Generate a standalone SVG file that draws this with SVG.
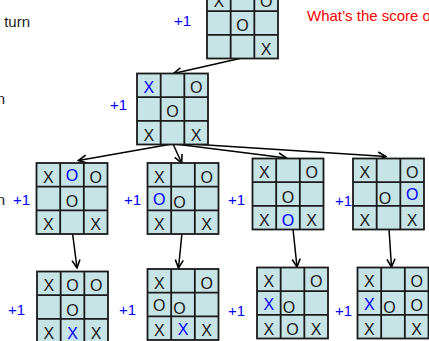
<svg xmlns="http://www.w3.org/2000/svg" width="429" height="341" viewBox="0 0 429 341">
<style>
.bg{fill:#c6e3e5;stroke:#1a1a1a;stroke-width:1.8}
.gl{stroke:#1a1a1a;stroke-width:1.8}
.m{font-family:"Liberation Sans",Arial,sans-serif;font-size:16px;text-anchor:middle;fill:#1a1a1a}
.b{fill:#0000ff}
.s{font-family:"Liberation Sans",Arial,sans-serif;font-size:15px;fill:#0000ff}
.k{font-family:"Liberation Sans",Arial,sans-serif;font-size:15px;fill:#1a1a1a}
.r{font-family:"Liberation Sans",Arial,sans-serif;font-size:15px;fill:#ff0000}
.c{stroke:#000;stroke-width:1.5;fill:none;marker-end:url(#ah)}
</style>
<defs>
<marker id="ah" viewBox="0 0 10 10" refX="9" refY="5" markerWidth="10" markerHeight="10" markerUnits="userSpaceOnUse" orient="auto">
<path d="M1,1 L9,5 L1,9" fill="none" stroke="#000" stroke-width="1.6"/>
</marker>
<g id="grid">
<rect class="bg" x="0" y="0" width="71" height="71"/>
<line class="gl" x1="23.67" y1="0" x2="23.67" y2="71"/>
<line class="gl" x1="47.33" y1="0" x2="47.33" y2="71"/>
<line class="gl" x1="0" y1="23.67" x2="71" y2="23.67"/>
<line class="gl" x1="0" y1="47.33" x2="71" y2="47.33"/>
</g>
</defs>

<text class="k" x="30" y="27" text-anchor="end">turn</text>
<text class="k" x="5" y="104" text-anchor="end">n</text>
<text class="k" x="5" y="205" text-anchor="end">n</text>
<text class="r" x="307" y="21">What’s the score o</text>

<g id="connectors">
<line class="c" x1="242" y1="58" x2="173.5" y2="73.5"/>
<line class="c" x1="172" y1="144" x2="78.5" y2="160.5"/>
<line class="c" x1="173" y1="144" x2="181.7" y2="163"/>
<line class="c" x1="175" y1="144" x2="286.5" y2="158"/>
<line class="c" x1="176" y1="143" x2="386" y2="156.5"/>
<line class="c" x1="72.5" y1="233" x2="77" y2="268"/>
<line class="c" x1="182" y1="233" x2="178.5" y2="268"/>
<line class="c" x1="293" y1="229" x2="297" y2="267"/>
<line class="c" x1="389" y1="229" x2="391.5" y2="267"/>
</g>

<g id="n0" transform="translate(207,-12.5)">
<use href="#grid"/>
<text class="m" x="11.8" y="19.8">X</text><text class="m" x="59.2" y="19.8">O</text>
<text class="m" x="35.5" y="43.5">O</text>
<text class="m" x="59.2" y="67.2">X</text>
</g>
<text class="s" x="174" y="26">+1</text>

<g id="n1" transform="translate(137,73.5)">
<use href="#grid"/>
<text class="m b" x="11.8" y="19.8">X</text><text class="m" x="59.2" y="19.8">O</text>
<text class="m" x="35.5" y="43.5">O</text>
<text class="m" x="11.8" y="67.2">X</text><text class="m" x="59.2" y="67.2">X</text>
</g>
<text class="s" x="110" y="110">+1</text>

<g id="n2" transform="translate(36.5,163)">
<use href="#grid"/>
<text class="m" x="11.8" y="19.8">X</text><text class="m b" x="35.5" y="17.5">O</text><text class="m" x="59.2" y="19.8">O</text>
<text class="m" x="35.5" y="44">O</text>
<text class="m" x="11.8" y="67.2">X</text><text class="m" x="59.2" y="67.2">X</text>
</g>
<text class="s" x="13" y="205">+1</text>

<g id="n3" transform="translate(147.5,163)">
<use href="#grid"/>
<text class="m" x="11.8" y="19.8">X</text><text class="m" x="59.2" y="19.8">O</text>
<text class="m b" x="11.8" y="42">O</text><text class="m" x="32" y="44.5">O</text>
<text class="m" x="11.8" y="67.2">X</text><text class="m" x="59.2" y="67.2">X</text>
</g>
<text class="s" x="124" y="205">+1</text>

<g id="n4" transform="translate(252.5,158.5)">
<use href="#grid"/>
<text class="m" x="11.8" y="19.8">X</text><text class="m" x="59.2" y="19.8">O</text>
<text class="m" x="35.5" y="44.5">O</text>
<text class="m" x="11.8" y="67.2">X</text><text class="m b" x="35.5" y="67.2">O</text><text class="m" x="59.2" y="67.2">X</text>
</g>
<text class="s" x="228" y="205">+1</text>

<g id="n5" transform="translate(353,158.5)">
<use href="#grid"/>
<text class="m" x="11.8" y="19.8">X</text><text class="m" x="59.2" y="19.8">O</text>
<text class="m" x="32" y="45">O</text><text class="m b" x="59.2" y="41.5">O</text>
<text class="m" x="11.8" y="67.2">X</text><text class="m" x="59.2" y="67.2">X</text>
</g>
<text class="s" x="335" y="206">+1</text>

<g id="n6" transform="translate(37,271.5)">
<use href="#grid"/>
<text class="m" x="11.8" y="19.8">X</text><text class="m" x="35.5" y="19.8">O</text><text class="m" x="59.2" y="19.8">O</text>
<text class="m" x="35.5" y="44">O</text>
<text class="m" x="11.8" y="67.2">X</text><text class="m b" x="35.5" y="67.2">X</text><text class="m" x="59.2" y="67.2">X</text>
</g>
<text class="s" x="8" y="315">+1</text>

<g id="n7" transform="translate(147.5,269)">
<use href="#grid"/>
<text class="m" x="11.8" y="19.8">X</text><text class="m" x="59.2" y="19.8">O</text>
<text class="m" x="11.8" y="42">O</text><text class="m" x="32" y="44.5">O</text>
<text class="m" x="11.8" y="67.2">X</text><text class="m b" x="35.5" y="66">X</text><text class="m" x="59.2" y="67.2">X</text>
</g>
<text class="s" x="119" y="315">+1</text>

<g id="n8" transform="translate(257,267.5)">
<use href="#grid"/>
<text class="m" x="11.8" y="19.8">X</text><text class="m" x="59.2" y="19.8">O</text>
<text class="m b" x="11.8" y="42">X</text><text class="m" x="32" y="45.5">O</text>
<text class="m" x="11.8" y="67.2">X</text><text class="m" x="35.5" y="67.2">O</text><text class="m" x="59.2" y="67.2">X</text>
</g>
<text class="s" x="228" y="316">+1</text>

<g id="n9" transform="translate(357.5,267.5)">
<use href="#grid"/>
<text class="m" x="11.8" y="19.8">X</text><text class="m" x="59.2" y="19.8">O</text>
<text class="m b" x="11.8" y="42">X</text><text class="m" x="32" y="45.5">O</text><text class="m" x="59.2" y="43">O</text>
<text class="m" x="11.8" y="67.2">X</text><text class="m" x="59.2" y="67.2">X</text>
</g>
<text class="s" x="335" y="316">+1</text>
</svg>
